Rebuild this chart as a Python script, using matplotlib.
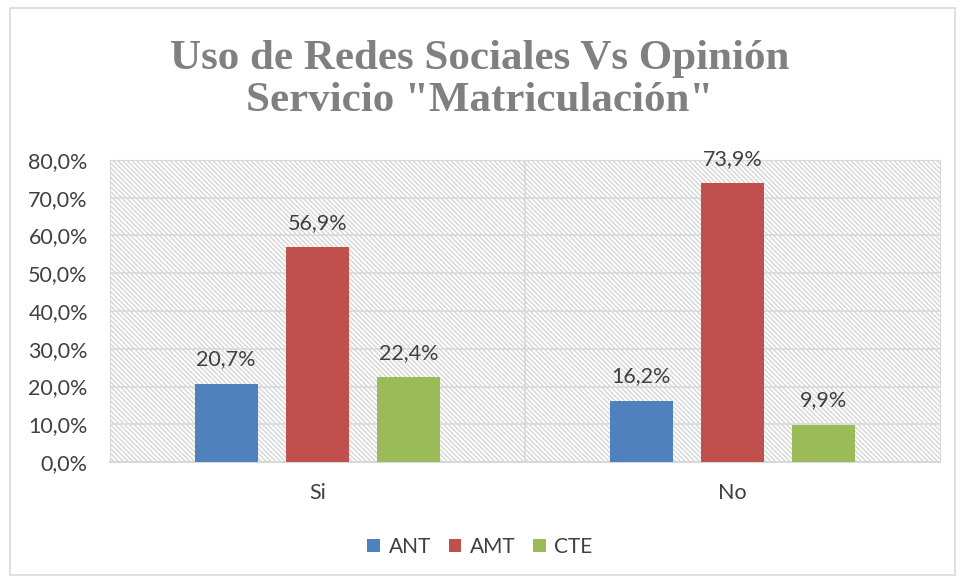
import numpy as np
import matplotlib.pyplot as plt
from matplotlib.patches import Rectangle
from matplotlib.ticker import FuncFormatter

# datos del grafico
categorias = ["Si", "No"]
series = ["ANT", "AMT", "CTE"]
ant = [20.7, 16.2]
amt = [56.9, 73.9]
cte = [22.4, 9.9]
colores = ["#4F81BD", "#C0504D", "#9BBB59"]

plt.rcParams['font.family'] = ['Lato', 'DejaVu Sans']
plt.rcParams['hatch.color'] = '#d6d6d6'
plt.rcParams['hatch.linewidth'] = 1.0

fig = plt.figure(figsize=(9.6, 5.79), dpi=100)
fig.patches.append(Rectangle((10 / 960, 0.007), 945 / 960, 0.98, transform=fig.transFigure,
                             fill=False, edgecolor='#d9d9d9', linewidth=1.2))

ax = fig.add_axes([110 / 960, 1 - 462 / 579, 830 / 960, 302 / 579])
ax.add_patch(Rectangle((0, 0), 1, 1, transform=ax.transAxes, facecolor='white',
                       hatch='\\' * 7, edgecolor='#d6d6d6', linewidth=0, zorder=0))

x = np.arange(len(categorias))
ancho = 0.152
paso = 0.22
for i, (nombre, vals) in enumerate(zip(series, [ant, amt, cte])):
    pos = x + (i - 1) * paso
    barras = ax.bar(pos, vals, ancho, color=colores[i], label=nombre, zorder=3)
    for b, v in zip(barras, vals):
        ax.text(b.get_x() + b.get_width() / 2, v + 3.8, f"{v:.1f}%".replace('.', ','),
                ha='center', va='bottom', fontsize=15.5, color='#404040', zorder=4)

ax.set_xlim(-0.5, 1.5)
ax.set_ylim(0, 80)
ax.set_yticks(np.arange(0, 81, 10))
ax.yaxis.set_major_formatter(FuncFormatter(lambda v, p: f"{v:.1f}%".replace('.', ',')))
ax.set_xticks(x)
ax.set_xticklabels(categorias)
ax.grid(axis='y', color='#d9d9d9', linewidth=1.2, zorder=1)
ax.axvline(0.5, color='#d9d9d9', linewidth=1.2, zorder=1)
ax.tick_params(axis='both', length=0, labelsize=15.5, labelcolor='#404040')
ax.tick_params(axis='x', pad=15)
ax.tick_params(axis='y', pad=16)
for lado in ['top', 'right', 'left']:
    ax.spines[lado].set_color('#d9d9d9')
ax.spines['bottom'].set_color('#d9d9d9')
ax.spines['bottom'].set_linewidth(1.5)
ax.set_axisbelow(True)

fig.text(0.5, 1 - 80 / 579, 'Uso de Redes Sociales Vs Opinión\nServicio "Matriculación"',
         ha='center', va='center', fontsize=31, fontweight='bold', color='#808080',
         family='Liberation Serif', linespacing=1.12)

fig.legend(loc='center', bbox_to_anchor=(0.5, 1 - 547 / 579), ncol=3, frameon=False,
           fontsize=15, handlelength=0.62, handleheight=0.62, columnspacing=0.85,
           handletextpad=0.4, labelcolor='#404040')

fig.savefig('out.png', dpi=100)
